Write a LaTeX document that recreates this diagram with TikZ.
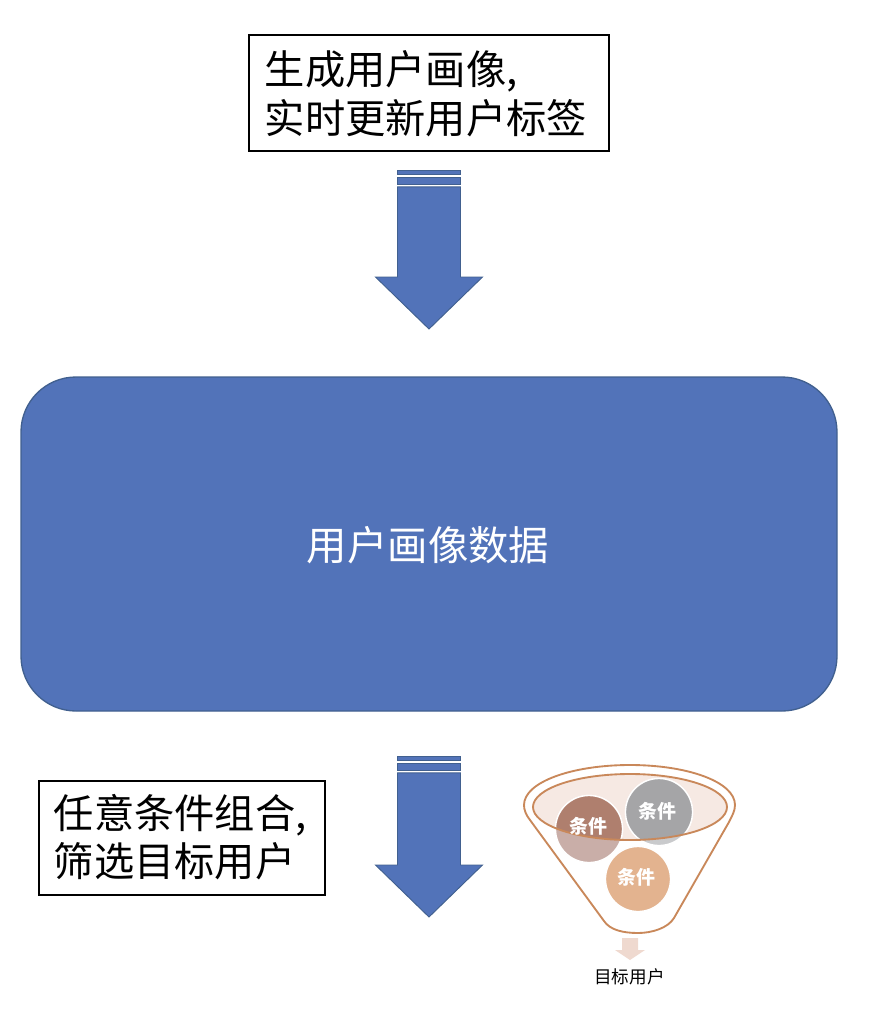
\documentclass[tikz,border=0pt]{standalone}
\usepackage{fontspec}
\setmainfont{Noto Sans CJK SC}
\definecolor{blueF}{HTML}{5273B9}
\definecolor{blueD}{HTML}{41608F}
\definecolor{funL}{HTML}{C9885A}
\definecolor{brownD}{HTML}{AF7F6E}
\definecolor{brownL}{HTML}{C9AEA8}
\definecolor{grayD}{HTML}{A5A5A7}
\definecolor{grayL}{HTML}{C9CACC}
\definecolor{orangeF}{HTML}{E3B38F}
\definecolor{peach}{HTML}{F6E9E3}
\definecolor{peachA}{HTML}{EFD9CF}
\tikzset{
  x=0.75pt,y=-0.75pt,
  labelbox/.style={draw=black,line width=1.1pt,fill=white},
  boxtext/.style={anchor=west,inner sep=0,font=\fontsize{30.2pt}{36pt}\selectfont,text=black},
  bigbox/.style={draw=blueD,line width=1pt,fill=blueF},
  arrowbody/.style={draw=blueD,line width=0.7pt,fill=blueF},
  bubbletext/.style={inner sep=0,text=white,font=\fontsize{14.2pt}{16pt}\selectfont\bfseries},
  funnelline/.style={draw=funL,line width=1.4pt},
  pics/downarrow/.style={code={
    \path[arrowbody] (397.5,170.5) rectangle (460.5,174.4);
    \path[arrowbody] (397.5,177) rectangle (460.5,184);
    \path[arrowbody,line join=miter] (397.5,186.8) -- (460.5,186.8) -- (460.5,{277+#1}) -- (482.5,{277+#1}) -- (429,{329+#1}) -- (375.5,{277+#1}) -- (397.5,{277+#1}) -- cycle;
  }}
}
\begin{document}
\begin{tikzpicture}
\useasboundingbox (0,0) rectangle (874,1022);
% top label
\path[labelbox] (249,35) rectangle (609,151);
\node[boxtext] (t1a) at (264.5,71) {生成用户画像,};
\node[boxtext] (t1b) at (264.5,118) {实时更新用户标签};
% arrows
\pic (arrowA) at (0,0) {downarrow=0};
\pic (arrowB) at (0,586) {downarrow=2};
% main box
\path[bigbox] (21,377) [rounded corners=41.25pt] rectangle (837,711);
\node[inner sep=0,text=white,font=\fontsize{30.3pt}{36pt}\selectfont] (main) at (428,545) {用户画像数据};
% lower label
\path[labelbox] (39,781) rectangle (325,895);
\node[boxtext] (t2a) at (53.5,815) {任意条件组合,};
\node[boxtext] (t2b) at (53.5,861) {筛选目标用户};
% funnel
\path[funnelline,fill=white]
  (524,805) .. controls (524,782) and (572,765) .. (630,765)
  .. controls (688,765) and (735,782) .. (735,805)
  .. controls (735,811) and (732,816) .. (729,822)
  -- (674,918)
  .. controls (668,928) and (652,933) .. (638,933)
  .. controls (623,933) and (610,930) .. (604,921)
  -- (530,820)
  .. controls (526,815) and (524,810) .. (524,805) -- cycle;
\path[fill=peach] (630,807) ellipse [x radius=97,y radius=33];
% circles: pale outside the ellipse, dark inside
\path[fill=brownL,draw=white,line width=1pt] (589,829) circle [radius=33.5];
\path[fill=grayL,draw=white,line width=1pt] (659,812) circle [radius=33.5];
\begin{scope}
  \clip (630,807) ellipse [x radius=97,y radius=33];
  \path[fill=brownD,draw=white,line width=1pt] (589,829) circle [radius=33.5];
  \path[fill=grayD,draw=white,line width=1pt] (659,812) circle [radius=33.5];
\end{scope}
\path[fill=orangeF,draw=white,line width=1pt] (638,879) circle [radius=32.5];
\path[funnelline] (630,807) ellipse [x radius=97,y radius=33];
\node[bubbletext] (c1) at (588.5,826) {条件};
\node[bubbletext] (c2) at (657.5,811) {条件};
\node[bubbletext] (c3) at (636.5,877) {条件};
% small arrow
\path[fill=peachA] (622,938) -- (638,938) -- (638,950) -- (645,950) -- (630,960) -- (615,950) -- (622,950) -- cycle;
\node[inner sep=0,text=black,font=\fontsize{13.2pt}{15pt}\selectfont] (goal) at (629.5,977) {目标用户};
\end{tikzpicture}
\end{document}
